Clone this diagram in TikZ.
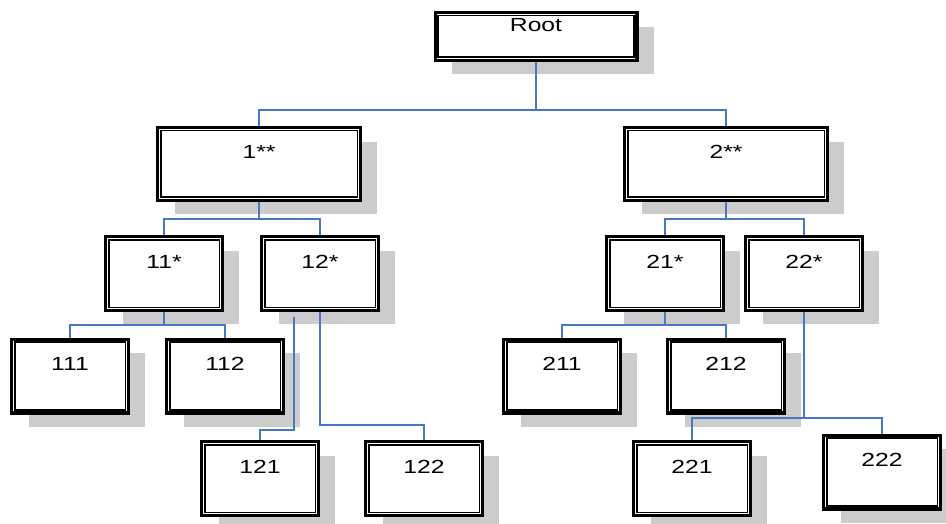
\documentclass[tikz,border=0pt]{standalone}
\usepackage{fontspec}
\setmainfont{Liberation Sans}[FakeStretch=1.3]
\usetikzlibrary{shadows}
\definecolor{linkblue}{RGB}{70,120,195}

\begin{document}
\begin{tikzpicture}[x=1pt,y=-1pt,
  box/.style={draw,fill=white,line width=3.2pt,
    font=\fontsize{19}{21}\selectfont,text height=13.5pt,text depth=24pt,
    drop shadow={shadow xshift=17pt,shadow yshift=-14pt,fill=black!20,opacity=1}},
  big/.style={box,minimum width=202.8pt,minimum height=72.8pt},
  small/.style={box,minimum width=116.8pt,minimum height=73.8pt},
  inner/.style={line width=1.6pt},
  link/.style={linkblue,line width=2.6pt}]
\useasboundingbox (0,0) rectangle (946,524);
% boxes
\node[box,minimum width=201.8pt,minimum height=47.8pt] (root) at (536,36.5) {Root};
\node[big] (n1) at (259,164) {1**};
\node[big] (n2) at (726,164) {2**};
\node[small] (n11) at (164,273.5) {11*};
\node[small] (n12) at (320,273.5) {12*};
\node[small] (n21) at (665,273.5) {21*};
\node[small] (n22) at (804,273.5) {22*};
\node[small] (n111) at (70,376) {111};
\node[small] (n112) at (225,376) {112};
\node[small] (n211) at (562,376) {211};
\node[small] (n212) at (726,376) {212};
\node[small] (n121) at (260,478.5) {121};
\node[small] (n122) at (424,478.5) {122};
\node[small] (n221) at (692,478.5) {221};
\node[small] (n222) at (882,472) {222};
% inner frame of each box
\foreach \n in {root,n1,n2,n11,n12,n21,n22,n111,n112,n211,n212,n121,n122,n221,n222}
  \draw[inner] ([shift={(4.7pt,4.7pt)}]\n.south west) rectangle ([shift={(-4.7pt,-4.7pt)}]\n.north east);
\coordinate (c12) at (294,317);
% links
\draw[link] (root.south) -- ++(0,48) -| (n1.north);
\draw[link] (root.south) -- ++(0,48) -| (n2.north);
\draw[link] (n1.south) -- ++(0,17) -| (n11.north);
\draw[link] (n1.south) -- ++(0,17) -| (n12.north);
\draw[link] (n2.south) -- ++(0,17) -| (n21.north);
\draw[link] (n2.south) -- ++(0,17) -| (n22.north);
\draw[link] (n11.south) -- ++(0,13) -| (n111.north);
\draw[link] (n11.south) -- ++(0,13) -| (n112.north);
\draw[link] (n21.south) -- ++(0,13) -| (n211.north);
\draw[link] (n21.south) -- ++(0,13) -| (n212.north);
\draw[link] (c12) -- ++(0,113) -| (n121.north);
\draw[link] (n12.south) -- ++(0,113) -| (n122.north);
\draw[link] (n22.south) -- ++(0,106) -| (n221.north);
\draw[link] (n22.south) -- ++(0,106) -| (n222.north);
\end{tikzpicture}
\end{document}
